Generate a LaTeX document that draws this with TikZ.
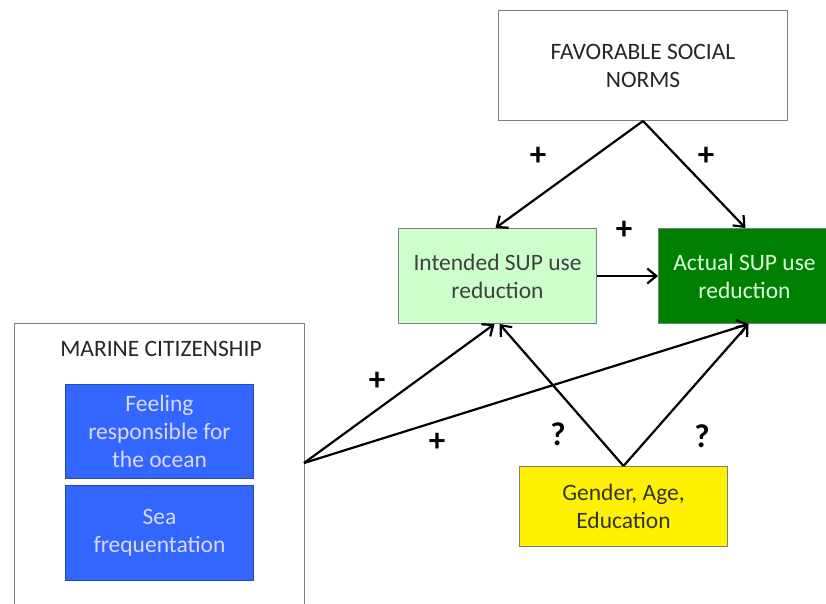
\documentclass[tikz,border=0pt]{standalone}
\usepackage{fontspec}
\setmainfont{Carlito}
\usetikzlibrary{arrows.meta}
\definecolor{lgreen}{HTML}{CCFFCC}
\definecolor{dgreen}{HTML}{008000}
\definecolor{myblue}{HTML}{3366FF}
\definecolor{bordergray}{HTML}{7F7F7F}
\begin{document}
\begin{tikzpicture}[x=1pt,y=-1pt,
  box/.style={draw=bordergray, line width=1pt, align=center, inner sep=0pt, font=\fontsize{23.5}{28}\selectfont},
  arr/.style={line width=2.2pt, -{Straight Barb[length=9pt,width=15pt,line width=2.2pt]}},
  sign/.style={font=\fontsize{33}{33}\selectfont\bfseries}]
\useasboundingbox (0,0) rectangle (826,603);
\node[box, fill=white, text=black!85, minimum width=289pt, minimum height=110pt, anchor=north west] (fsn) at (498,10) {FAVORABLE SOCIAL\\NORMS};
\node[box, fill=lgreen, text=black!75, minimum width=198pt, minimum height=95pt, anchor=north west] (int) at (398,228) {Intended SUP use\\reduction};
\node[box, fill=dgreen, text=white!88!green, minimum width=172pt, minimum height=95pt, anchor=north west] (act) at (658,228) {Actual SUP use\\reduction};
\node[box, fill=white, minimum width=290pt, minimum height=290pt, anchor=north west] (mc) at (14,323) {};
\node[font=\fontsize{23.5}{28}\selectfont, text=black!85] (mct) at (161,349) {MARINE CITIZENSHIP};
\node[box, draw=myblue!70!black, fill=myblue, text=white!85!blue, minimum width=188pt, minimum height=94pt, anchor=north west] (feel) at (65,384) {Feeling\\responsible for\\the ocean};
\node[box, draw=myblue!70!black, fill=myblue, text=white!85!blue, minimum width=188pt, minimum height=95pt, anchor=north west] (sea) at (65,485) {Sea\\frequentation};
\node[box, fill=yellow, text=black!80, minimum width=208pt, minimum height=80pt, anchor=north west] (gae) at (519,466) {Gender, Age,\\Education};
\coordinate (mcr) at (304,463);
\draw[arr] (fsn.south) -- ([xshift=-2pt]int.north);
\draw[arr] (fsn.south) -- ([xshift=1pt]act.north);
\draw[arr] (int.east) -- (act.west);
\draw[arr] (mcr) -- ([xshift=-3pt]int.south);
\draw[arr] (mcr) -- ([xshift=4pt]act.south);
\draw[arr] (gae.north) -- ([xshift=2pt]int.south);
\draw[arr] (gae.north) -- ([xshift=4pt]act.south);
\node[sign] (p1) at (538,156) {+};
\node[sign] (p2) at (706,156) {+};
\node[sign] (p3) at (624,230) {+};
\node[sign] (p4) at (377,381) {+};
\node[sign] (p5) at (437,442) {+};
\node[sign] (q1) at (558,434) {?};
\node[sign] (q2) at (702,436) {?};
\end{tikzpicture}
\end{document}
